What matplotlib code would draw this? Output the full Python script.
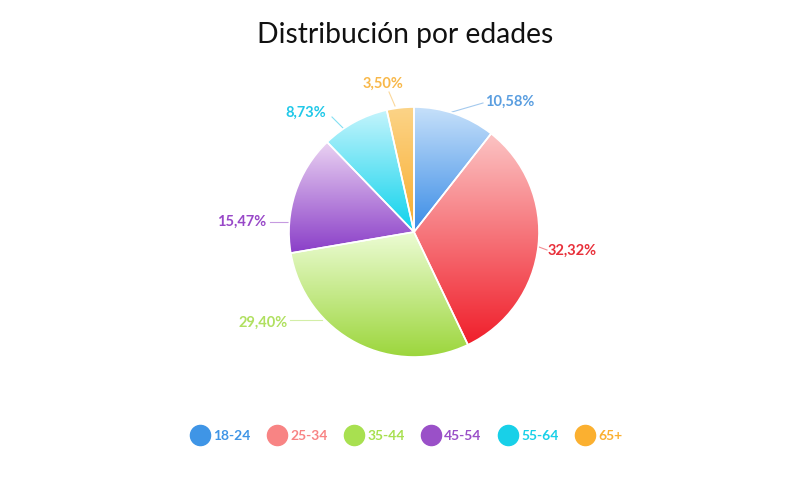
import numpy as np
import matplotlib
matplotlib.use("Agg")
import matplotlib.pyplot as plt
from matplotlib.colors import LinearSegmentedColormap
from matplotlib.lines import Line2D

plt.rcParams['font.family'] = ['Lato', 'DejaVu Sans']

# datos
grupos = ['18-24', '25-34', '35-44', '45-54', '55-64', '65+']
porcentajes = [10.58, 32.32, 29.40, 15.47, 8.73, 3.50]
etiquetas = ['10,58%', '32,32%', '29,40%', '15,47%', '8,73%', '3,50%']

# colores (arriba claro -> abajo oscuro)
color_claro = ['#c6e0fa', '#fcc4c4', '#ecfcd4', '#ead2f2', '#c4f4fc', '#fcd488']
color_oscuro = ['#3a8ce6', '#f01e2a', '#9cd63c', '#8a3ec8', '#0cd2ec', '#f8ac2c']
color_leyenda = ['#3f95e6', '#f88484', '#a8e050', '#9a50c8', '#18d0e8', '#fbb030']
color_texto = ['#5a9ee0', '#e8303a', '#b0e060', '#9848c8', '#20c8e8', '#f8b84a']

fig = plt.figure(figsize=(8.1, 5.0), dpi=100)
ax = fig.add_axes([0, 0, 1, 1])

cx, cy, r = 414, 500 - 232, 125
wedges, _ = ax.pie(porcentajes, startangle=90, counterclock=False,
                   center=(cx, cy), radius=r,
                   wedgeprops=dict(edgecolor='white', linewidth=1.2))

grad = np.linspace(0, 1, 256).reshape(-1, 1)
for i, w in enumerate(wedges):
    w.set_facecolor('none')
    w.set_zorder(3)
    ext = w.get_path().get_extents()
    cmap = LinearSegmentedColormap.from_list('g%d' % i, [color_oscuro[i], color_claro[i]])
    im = ax.imshow(grad, extent=[ext.x0, ext.x1, ext.y0, ext.y1], origin='lower',
                   cmap=cmap, aspect='auto', zorder=2, interpolation='bilinear')
    im.set_clip_path(w)

# etiquetas con lineas guia (posiciones en pixeles de la imagen)
inicio_linea = [(452, 112), (539, 247), (322, 320), (290, 222), (343, 128), (395, 106)]
fin_linea = [(483, 103), (547, 250), (290, 320), (270, 222), (332, 117), (389, 92)]
pos_texto = [(485, 102), (548, 251), (288, 323), (266, 222), (326, 113), (383, 84)]
alineacion = ['left', 'left', 'right', 'right', 'right', 'center']
for i in range(len(grupos)):
    x0, y0 = inicio_linea[i]
    x1, y1 = fin_linea[i]
    ax.plot([x0, x1], [500 - y0, 500 - y1], color=color_texto[i],
            lw=0.8, alpha=0.55, zorder=1)
    xt, yt = pos_texto[i]
    ax.text(xt, 500 - yt, etiquetas[i], color=color_texto[i], fontsize=10.5,
            fontweight='bold', ha=alineacion[i], va='center')

ax.text(405, 500 - 35, 'Distribución por edades', fontsize=20.3, ha='center',
        va='center', color='#111111')

handles = [Line2D([], [], marker='o', linestyle='', markersize=14.5,
                  markerfacecolor=c, markeredgecolor=c) for c in color_leyenda]
leg = ax.legend(handles, grupos, loc='center', bbox_to_anchor=(407 / 810, 64 / 500),
                ncol=6, frameon=False, handletextpad=0.35, columnspacing=1.3,
                prop=dict(weight='bold', size=10), handlelength=1.2)
for t, c in zip(leg.get_texts(), color_leyenda):
    t.set_color(c)

ax.set_xlim(0, 810)
ax.set_ylim(0, 500)
ax.set_aspect('equal')
ax.axis('off')

fig.savefig('out.png', dpi=100, facecolor='white')
